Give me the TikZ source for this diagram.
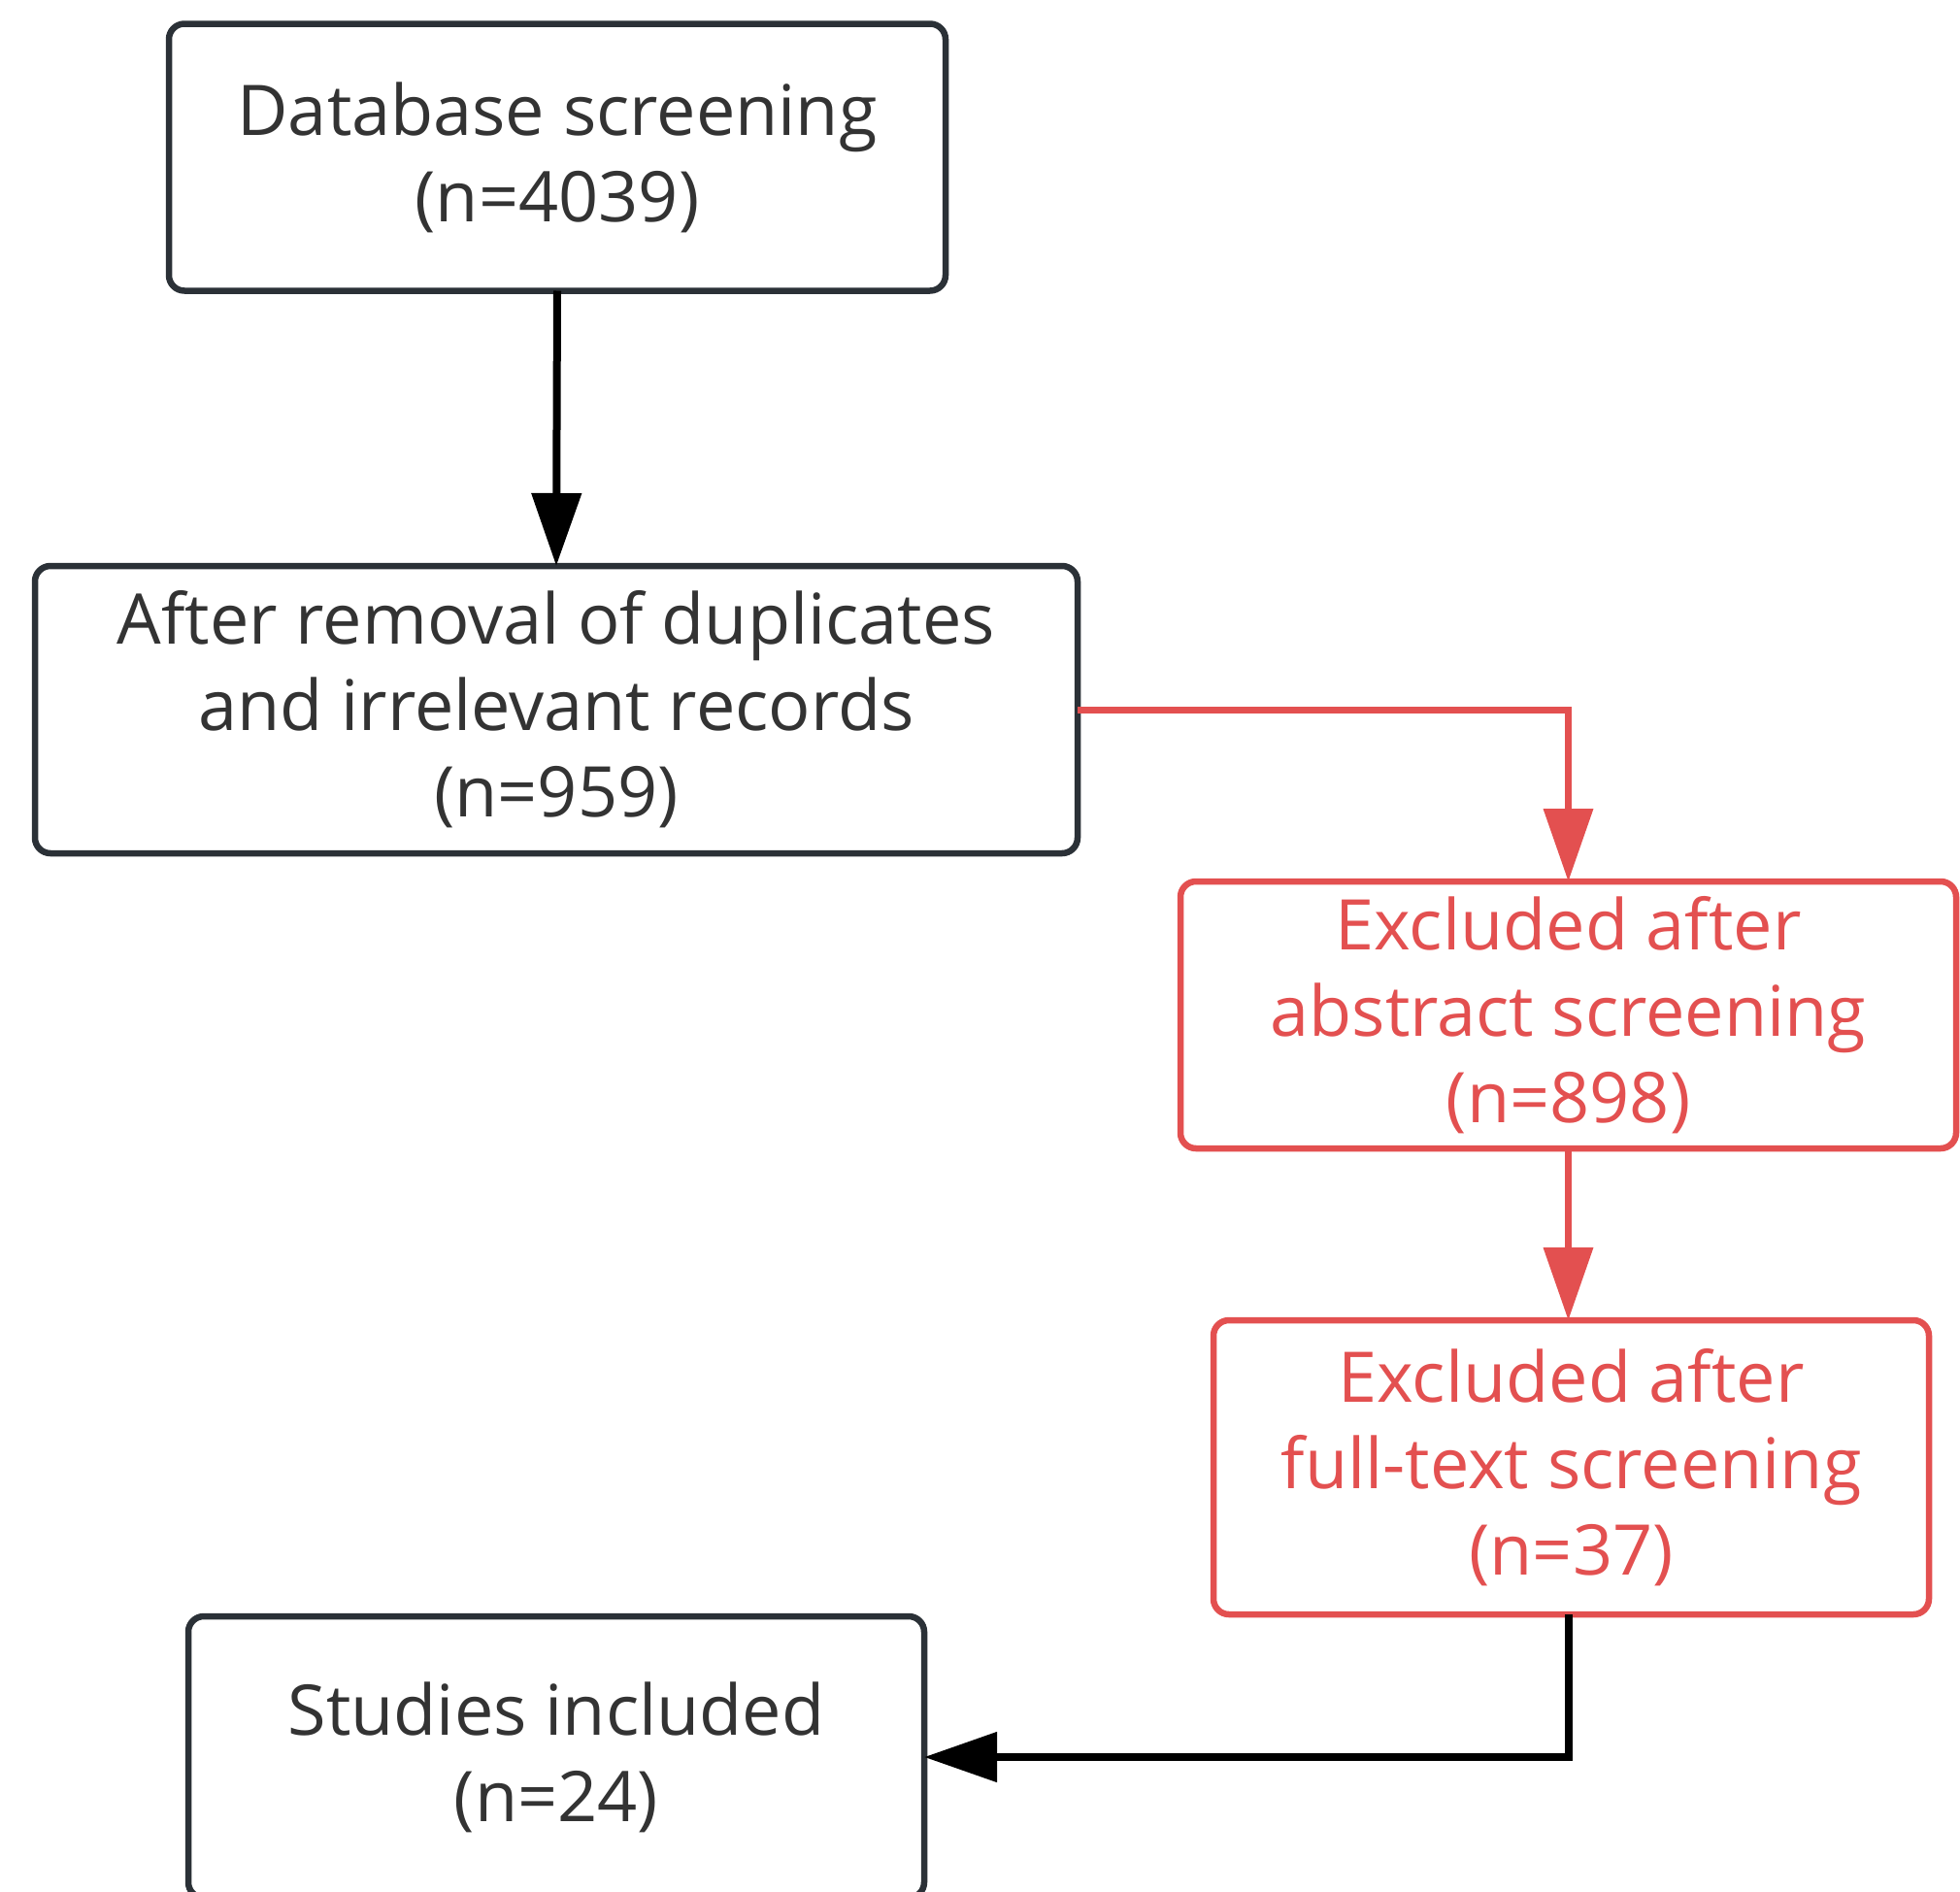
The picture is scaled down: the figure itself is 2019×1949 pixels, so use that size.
\documentclass[tikz,border=0pt]{standalone}
\usepackage{fontspec}
\setmainfont{Open Sans}
\usetikzlibrary{arrows.meta}
\definecolor{boxgray}{HTML}{2B3137}
\definecolor{txtgray}{HTML}{333333}
\definecolor{exred}{HTML}{E35050}
\tikzset{
  flowbox/.style={draw=boxgray, line width=6.5pt, rounded corners=16pt, inner sep=0pt, outer sep=0pt,
    align=center, text=txtgray, font=\fontsize{72}{89}\selectfont},
  redbox/.style={flowbox, draw=exred, text=exred},
  blackarrow/.style={draw=black, line width=8pt, -{Triangle[length=75pt,width=50pt]}},
  redarrow/.style={draw=exred, line width=7pt, -{Triangle[length=75pt,width=50pt]}}
}
\begin{document}
\begin{tikzpicture}[x=1pt,y=-1pt]
\fill[white] (0,0) rectangle (2019,1949);
\clip (0,0) rectangle (2019,1949);
\node[flowbox, minimum width=800pt, minimum height=275pt] (b1) at (574,162) {Database screening\\(n=4039)};
\node[flowbox, minimum width=1074pt, minimum height=296pt] (b2) at (573,731) {After removal of duplicates\\and irrelevant records\\(n=959)};
\node[redbox, minimum width=799pt, minimum height=275pt] (b3) at (1615.5,1045.5) {Excluded after\\abstract screening\\(n=898)};
\node[redbox, minimum width=737pt, minimum height=303pt] (b4) at (1618.5,1511.5) {Excluded after\\full-text screening\\(n=37)};
\node[flowbox, minimum width=758pt, minimum height=290pt] (b5) at (573,1810) {Studies included\\(n=24)};
\draw[blackarrow] (b1.south) -- (b2.north);
\draw[redarrow] (b2.east) -| (b3.north);
\draw[redarrow] (b3.south) -- (b3.south |- b4.north);
\draw[blackarrow] (b4.south -| b3.south) |- (b5.east);
\end{tikzpicture}
\end{document}
